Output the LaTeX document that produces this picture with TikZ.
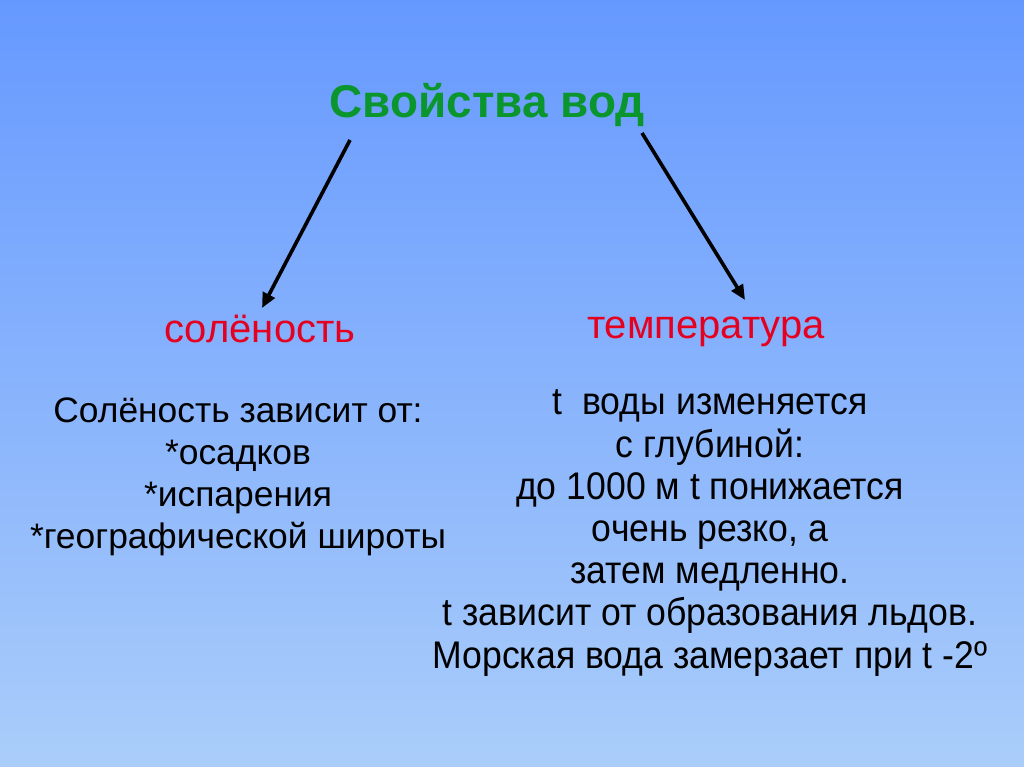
\documentclass[tikz,border=0pt]{standalone}
\usepackage{fontspec}
\setmainfont{Liberation Sans}
\newfontfamily\narrowfont[FakeStretch=0.925]{Liberation Sans}
\usetikzlibrary{arrows.meta,calc}
\definecolor{bgtop}{RGB}{102,153,255}
\definecolor{bgbot}{RGB}{170,205,250}
\definecolor{titlegreen}{RGB}{10,150,45}
\definecolor{labelred}{RGB}{228,0,30}
\begin{document}
\begin{tikzpicture}[x=1pt,y=-1pt,
  titlestyle/.style={anchor=base,inner sep=0pt,text=titlegreen,font=\bfseries\fontsize{45.9}{53}\selectfont},
  labelstyle/.style={anchor=base,inner sep=0pt,text=labelred,font=\fontsize{40}{46}\selectfont},
  bodystyle/.style={anchor=base,inner sep=0pt,align=center,text=black,font=\fontsize{35.4}{41.7}\selectfont},
  narrowstyle/.style={anchor=base,inner sep=0pt,align=center,text=black,font=\narrowfont\fontsize{38.5}{42.2}\selectfont},
  arrowline/.style={line width=3.6pt,-{Triangle[length=15pt,width=13pt]}}]
\shade[top color=bgtop,bottom color=bgbot] (0,0) rectangle (1024,767);
\useasboundingbox (0,0) rectangle (1024,767);
\node[titlestyle] (t) at (487,118) {Свойства вод};
\node[labelstyle] (sal) at (260,342) {солёность};
\node[labelstyle] (temp) at (706,338) {температура};
\node[bodystyle] (saltext) at (238,548) {Солёность зависит от:\\*осадков\\*испарения\\*географической широты};
\node[narrowstyle] (temptext) at (710,668) {t\ \ воды изменяется\\с глубиной:\\до 1000 м t понижается\\очень резко, а\\затем медленно.\\t зависит от образования льдов.\\Морская вода замерзает при t -2º};
\coordinate (a1s) at (350,140);
\coordinate (a1e) at (262,308);
\coordinate (a2s) at (642,133);
\coordinate (a2e) at (745,300);
\draw[arrowline] (a1s) -- (a1e);
\draw[arrowline] (a2s) -- (a2e);
\end{tikzpicture}
\end{document}
